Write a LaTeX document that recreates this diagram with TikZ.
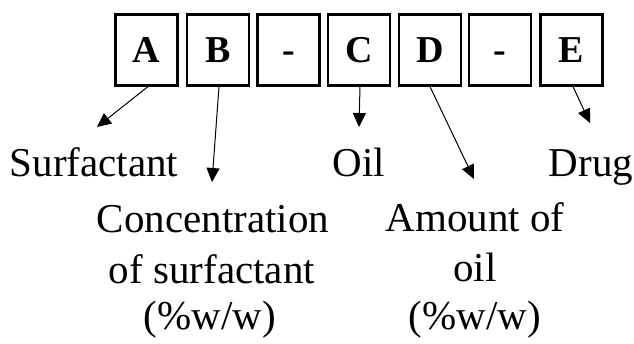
\documentclass[tikz,border=0pt]{standalone}
\usepackage{fontspec}
\setmainfont{Liberation Serif}
\usetikzlibrary{arrows.meta}
\begin{document}
\begin{tikzpicture}[x=1pt,y=-1pt,
  codebox/.style={draw,line width=2.2pt,minimum width=62pt,minimum height=71pt,inner sep=0pt,
    text height=25pt,text depth=0pt,
    font=\fontsize{38}{40}\selectfont\bfseries},
  lbl/.style={anchor=base,inner sep=0pt,font=\fontsize{41}{48}\selectfont},
  pointer/.style={line width=1pt,-{Triangle[length=14pt,width=13pt]}}]
\useasboundingbox (0,0) rectangle (634,344);
\node[codebox] (A) at (146.5,50) {A};
\node[codebox] (B) at (218,50) {B};
\node[codebox] (d1) at (288.5,50) {-};
\node[codebox] (C) at (359,50) {C};
\node[codebox] (D) at (430,50) {D};
\node[codebox] (d2) at (500,50) {-};
\node[codebox] (E) at (571.5,50) {E};

\node[lbl] (surf) at (94,177) {Surfactant};
\node[lbl] (oil) at (359,177) {Oil};
\node[lbl] (drug) at (591,177) {Drug};
\node[lbl] (conc1) at (213,233) {Concentration};
\node[lbl] (conc2) at (212,284) {of surfactant};
\node[lbl] (conc3) at (210,330) {(\%w/w)};
\node[lbl] (amt1) at (475,232) {Amount of};
\node[lbl] (amt2) at (475,282) {oil};
\node[lbl] (amt3) at (475,330) {(\%w/w)};

\coordinate (tA) at (97,127);
\coordinate (tB) at (212,182);
\coordinate (tC) at (359,127);
\coordinate (tD) at (474,179);
\coordinate (tE) at (590,123);

\draw[pointer] ([xshift=1.5pt]A.south) -- (tA);
\draw[pointer] ([xshift=1pt]B.south) -- (tB);
\draw[pointer] ([xshift=1pt]C.south) -- (tC);
\draw[pointer] (D.south) -- (tD);
\draw[pointer] ([xshift=1.5pt]E.south) -- (tE);
\end{tikzpicture}
\end{document}
